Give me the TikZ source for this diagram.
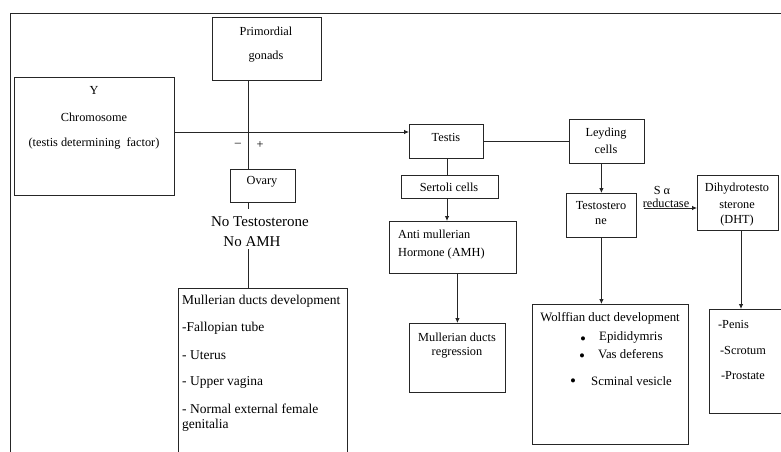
\documentclass[tikz,border=0pt]{standalone}
\usepackage{fontspec}
\setmainfont{Liberation Serif}
\usetikzlibrary{arrows.meta}
\begin{document}
\begin{tikzpicture}[x=1pt,y=-1pt,
  box/.style={draw=black!85,line width=0.8pt,inner sep=0pt,anchor=north west},
  txt/.style={inner sep=0pt,font=\fontsize{12.3}{14}\selectfont},
  txtl/.style={txt,anchor=west},
  wtxt/.style={inner sep=0pt,font=\fontsize{12.8}{14}\selectfont},
  wtxtl/.style={wtxt,anchor=west},
  bul/.style={inner sep=0pt,font=\fontsize{17}{17}\selectfont},
  big/.style={inner sep=0pt,font=\fontsize{15}{17}\selectfont},
  mtxt/.style={inner sep=0pt,anchor=west,font=\fontsize{13.5}{15}\selectfont},
  ln/.style={draw=black!85,line width=0.8pt},
  arr/.style={ln,-{Latex[length=5pt,width=4.5pt]}}]
\useasboundingbox (0,0) rectangle (781,452);
% frame
\draw[ln] (781,13.5) -- (10.5,13.5) -- (10.5,452);
% boxes
\node[box,minimum width=108.5pt,minimum height=63pt] (prim) at (212,17) {};
\node[box,minimum width=160pt,minimum height=118pt] (ychrom) at (14,77) {};
\node[box,minimum width=65pt,minimum height=33pt] (ovary) at (230,169) {};
\node[box,minimum width=169pt,minimum height=170pt] (mdev) at (178,288) {};
\node[box,minimum width=74pt,minimum height=34pt] (testis) at (409,124) {};
\node[box,minimum width=75pt,minimum height=44pt] (leyd) at (569,119) {};
\node[box,minimum width=97pt,minimum height=23pt] (sert) at (401,175) {};
\node[box,minimum width=127pt,minimum height=52pt] (amh) at (389,221) {};
\node[box,minimum width=96pt,minimum height=69pt] (mreg) at (409,323) {};
\node[box,minimum width=70pt,minimum height=44pt] (testo) at (566,193) {};
\node[box,minimum width=81pt,minimum height=55pt] (dht) at (697,175) {};
\node[box,minimum width=156pt,minimum height=140pt] (wolff) at (532,304) {};
\node[box,minimum width=75pt,minimum height=104pt] (penis) at (709,309) {};
% texts
\node[txt] (t1) at (266,31) {Primordial};
\node[txt] (t2) at (266,57) {gonads};
\node[txt] (t3) at (94,90) {Y};
\node[txt] (t4) at (94,117) {Chromosome};
\node[txt] (t5) at (94,143) {(testis determining \ factor)};
\node[txt] (t6) at (262,182) {Ovary};
\node[txt] (minus) at (238,145) {–};
\node[txt] (plus) at (260,145) {+};
\node[big] (nt) at (260,222) {No Testosterone};
\node[big] (na) at (252,242) {No AMH};
\node[txt] (t7) at (446,137) {Testis};
\node[txt] (t8) at (606,134) {Leyding};
\node[txt] (t9) at (606,149) {cells};
\node[txt] (t10) at (449,187) {Sertoli cells};
\node[txtl] (t11) at (398,234) {Anti mullerian};
\node[txtl] (t12) at (398,254) {Hormone (AMH)};
\node[txt] (t13) at (457,337) {Mullerian ducts};
\node[txt] (t14) at (457,353) {regression};
\node[txt] (t15) at (601,206) {Testostero};
\node[txt] (t16) at (601,222) {ne};
\node[txt] (t17) at (737,189) {Dihydrotesto};
\node[txt] (t18) at (737,205) {sterone};
\node[txt] (t19) at (737,221) {(DHT)};
\node[txt] (sa) at (662,190) {S α};
\node[txt,anchor=base] (red) at (666,207) {reductase};
\node[mtxt] (m1) at (182,301) {Mullerian ducts development};
\node[mtxt] (m2) at (182,328) {-Fallopian tube};
\node[mtxt] (m3) at (182,355) {- Uterus};
\node[mtxt] (m4) at (182,382) {- Upper vagina};
\node[mtxt] (m5) at (182,409) {- Normal external female};
\node[mtxt] (m6) at (182,425) {genitalia};
\node[wtxt] (w1) at (610,318) {Wolffian duct development};
\node[bul] (b1) at (583,341) {•};
\node[bul] (b2) at (582,358) {•};
\node[bul] (b3) at (573,383) {•};
\node[wtxtl] (w2) at (599,337) {Epididymris};
\node[wtxtl] (w3) at (598,354) {Vas deferens};
\node[wtxtl] (w4) at (591,381) {Scminal vesicle};
\node[txt] (p1) at (733.5,324) {-Penis};
\node[txt] (p2) at (743,350) {-Scrotum};
\node[txt] (p3) at (743,376) {-Prostate};
% helper coordinates
\coordinate (h132) at (0,132);
\coordinate (h208) at (0,208);
\coordinate (v248) at (248,0);
\coordinate (v447) at (447,0);
\coordinate (v741) at (741,0);
% connectors
\draw[arr] (ychrom.east |- h132) -- (testis.west |- h132);
\draw[ln] (prim.south -| v248) -- (ovary.north -| v248);
\draw[ln] (ovary.south -| v248) -- ++(0,6);
\draw[ln] (na.south -| v248) ++(0,2) -- (mdev.north -| v248);
\draw[ln] (testis.east) -- (leyd.west);
\draw[ln] (testis.south -| v447) -- (sert.north -| v447);
\draw[arr] (sert.south -| v447) -- (amh.north -| v447);
\draw[arr] (mreg.north |- amh.south) -- (mreg.north);
\draw[arr] (testo.north |- leyd.south) -- (testo.north);
\draw[arr,shorten <=7pt] (testo.east |- h208) -- (dht.west |- h208);
\draw[arr] (dht.south -| v741) -- (penis.north -| v741);
\draw[arr] (testo.south) -- (testo.south |- wolff.north);
\end{tikzpicture}
\end{document}
